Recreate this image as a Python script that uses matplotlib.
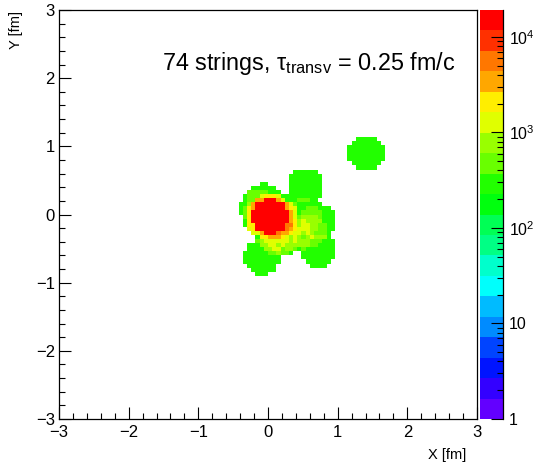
import colorsys
import numpy as np
import matplotlib
matplotlib.use("Agg")
import matplotlib.pyplot as plt
from matplotlib.colors import ListedColormap, BoundaryNorm
from matplotlib.ticker import MultipleLocator, FixedLocator, FixedFormatter, LogLocator, NullFormatter

plt.rcParams['font.family'] = ['Liberation Sans', 'DejaVu Sans']
plt.rcParams['mathtext.fontset'] = 'custom'
plt.rcParams['mathtext.rm'] = 'Liberation Sans'
plt.rcParams['mathtext.it'] = 'Liberation Sans:italic'
plt.rcParams['mathtext.bf'] = 'Liberation Sans:bold'

# ---- data: string positions (fm), multiplicity, transverse radius ----
string_x = [0.03, 0.10, -0.05, 0.06, -0.01, 0.09, -0.04,
            0.13, 0.19, 0.10, 0.17, -0.12, -0.05, -0.15,
            1.41, 0.54, -0.08, 0.72, 0.72, 0.38, 0.50, 0.24, 0.58, 0.05, 0.15]
string_y = [-0.03, -0.03, -0.03, 0.04, 0.04, -0.09, -0.09,
            -0.11, -0.05, -0.18, 0.03, -0.04, 0.20, 0.10,
            0.90, 0.42, -0.62, -0.53, -0.10, -0.30, -0.04, -0.34, -0.25, -0.28, -0.36]
string_n = [40, 3, 3, 3, 3, 3, 3,
            2, 2, 1, 1, 1, 1, 1,
            1, 1, 1, 1, 1, 1, 1, 1, 1, 1, 1]
string_radius = 0.26          # fm
density_per_string = 300.0    # per bin

n_bins = 100
x_range = (-3.0, 3.0)
y_range = (-3.0, 3.0)
z_min, z_max = 1.0, 10 ** 4.28
n_levels = 20

x_ticks = [-3, -2, -1, 0, 1, 2, 3]
y_ticks = [-3, -2, -1, 0, 1, 2, 3]
cb_ticks = [1, 10, 100, 1000, 10000]
cb_labels = ['1', '10', r'$10^{2}$', r'$10^{3}$', r'$10^{4}$']

# ---- build histogram ----
xe = np.linspace(*x_range, n_bins + 1)
ye = np.linspace(*y_range, n_bins + 1)
xc = 0.5 * (xe[:-1] + xe[1:])
yc = 0.5 * (ye[:-1] + ye[1:])
XC, YC = np.meshgrid(xc, yc)
H = np.zeros_like(XC)
for sx, sy, sn in zip(string_x, string_y, string_n):
    inside = (XC - sx) ** 2 + (YC - sy) ** 2 <= string_radius ** 2
    H[inside] += sn * density_per_string
Hm = np.ma.masked_where(H <= 0, H)

# ---- ROOT "pretty" palette with 20 contours ----
cols = []
for k in range(n_levels):
    idx = int((k + 0.99) * 50 / n_levels)
    if idx >= 49:
        cols.append((1.0, 0.0, 0.0))
    else:
        hue = 280 - (idx + 1) * 5.6
        cols.append(colorsys.hls_to_rgb(hue / 360.0, 0.5, 1.0))
cmap = ListedColormap(cols)
levels = np.logspace(np.log10(z_min), np.log10(z_max), n_levels + 1)
norm = BoundaryNorm(levels, cmap.N, clip=True)

W, Hpx = 533, 468
fig = plt.figure(figsize=(W / 100, Hpx / 100), dpi=100)
ax = fig.add_axes([59 / W, 1 - 419 / Hpx, (477 - 59) / W, (419 - 10) / Hpx])
ax.pcolormesh(xe, ye, Hm, cmap=cmap, norm=norm, shading='flat')
ax.set_xlim(*x_range)
ax.set_ylim(*y_range)
ax.set_xticks(x_ticks)
ax.set_yticks(y_ticks)
ax.set_xticklabels([str(t).replace('-', '\u2212') for t in x_ticks])
ax.set_yticklabels([str(t).replace('-', '\u2212') for t in y_ticks])
ax.xaxis.set_minor_locator(MultipleLocator(0.2))
ax.yaxis.set_minor_locator(MultipleLocator(0.2))
ax.tick_params(which='both', direction='in', top=False, right=False, labelsize=12, width=0.8)
ax.tick_params(which='major', length=8.6)
ax.tick_params(which='minor', length=4.3)
ax.tick_params(axis='x', pad=4)
ax.tick_params(axis='y', pad=3)
for s in ax.spines.values():
    s.set_linewidth(0.9)

fig.text(466 / W, 1 - 455 / Hpx, 'X [fm]', ha='right', va='center', fontsize=10.5)
fig.text(16 / W, 1 - 11 / Hpx, 'Y [fm]', ha='center', va='top', rotation=90, fontsize=10.5)
fig.text(455 / W, 1 - 70 / Hpx, '74 strings, \u03c4$_{\\mathrm{transv}}$ = 0.25 fm/c',
         ha='right', va='baseline', fontsize=16.8)

# ---- colour bar ----
cax = fig.add_axes([480 / W, 1 - 419 / Hpx, 23 / W, (419 - 10) / Hpx])
cax.pcolormesh([0, 1], levels, np.arange(n_levels).reshape(-1, 1), cmap=cmap,
               vmin=-0.5, vmax=n_levels - 0.5, shading='flat')
cax.set_yscale('log')
cax.set_ylim(z_min, z_max)
cax.set_xlim(0, 1)
cax.set_xticks([])
cax.yaxis.tick_right()
cax.yaxis.set_major_locator(FixedLocator(cb_ticks))
cax.yaxis.set_major_formatter(FixedFormatter(cb_labels))
cax.yaxis.set_minor_locator(LogLocator(base=10, subs=np.arange(2, 10)))
cax.yaxis.set_minor_formatter(NullFormatter())
cax.tick_params(which='both', direction='in', left=False, right=True, labelsize=11.5, width=0.8, pad=4)
cax.tick_params(which='major', length=8.6)
cax.tick_params(which='minor', length=4.3)
for side in ['left', 'top', 'bottom']:
    cax.spines[side].set_visible(False)
cax.spines['right'].set_linewidth(0.9)

fig.savefig('out.png', dpi=100)
